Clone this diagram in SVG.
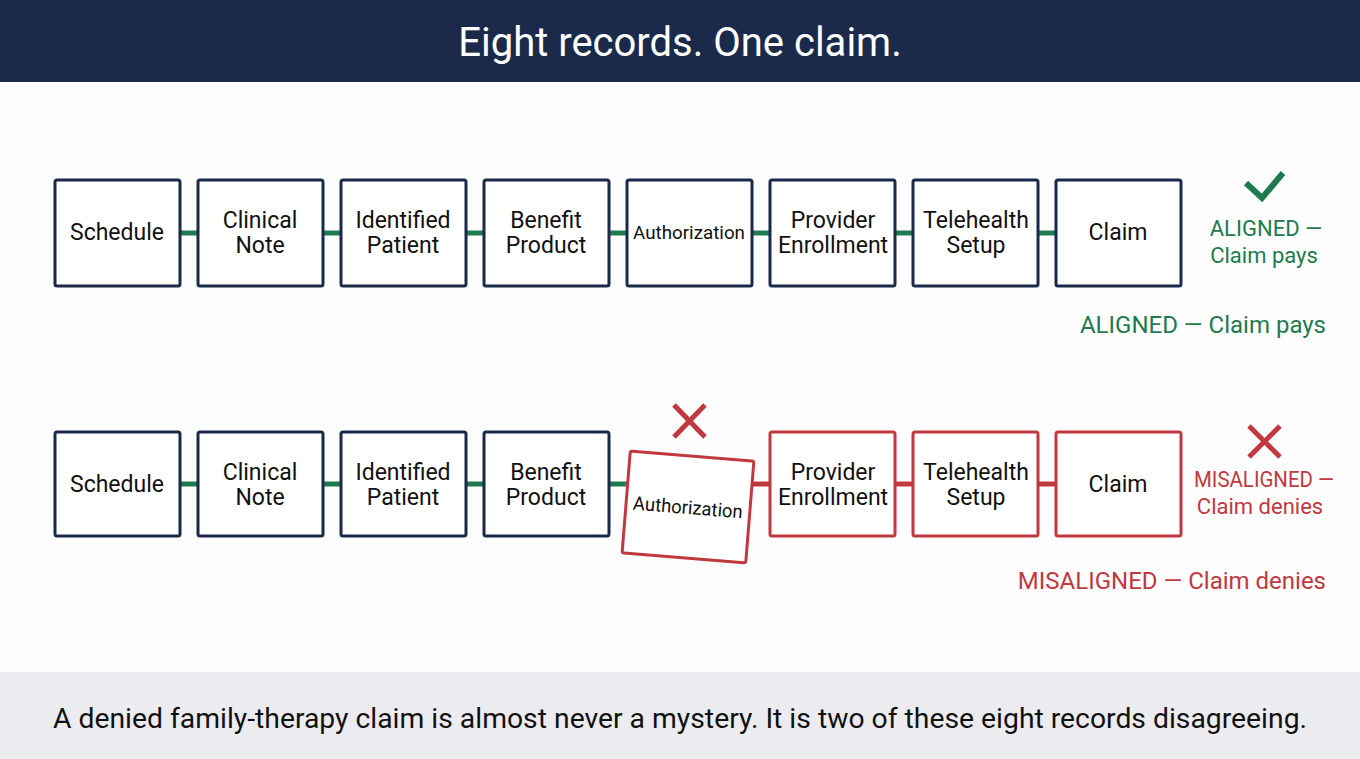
<svg xmlns="http://www.w3.org/2000/svg" width="1360" height="759" viewBox="0 0 1360 759">
<style>
text{font-family:Roboto,"Liberation Sans",sans-serif}
.b{fill:#fff;stroke:#1b2a4a;stroke-width:3}
.r{fill:#fff;stroke:#c0393f;stroke-width:3}
.t{font-size:23px;fill:#111;text-anchor:middle}
.au{font-size:19px;fill:#111;text-anchor:middle}
.g{stroke:#1e7a4f;stroke-width:5}
.rc{stroke:#c0393f;stroke-width:5}
.gt{fill:#1e7a4f;font-size:24px;text-anchor:middle}
.rt{fill:#c0393f;font-size:24px;text-anchor:middle}
.s{font-size:22px}
</style>
<rect width="1360" height="759" fill="#fdfdfd"/>
<rect width="1360" height="82" fill="#1b2a4a"/>
<text x="680" y="56" font-size="40" fill="#fff" text-anchor="middle">Eight records. One claim.</text>
<rect y="672" width="1360" height="87" fill="#ececf0"/>
<text x="680" y="728" font-size="28" fill="#111" text-anchor="middle" textLength="1254" lengthAdjust="spacingAndGlyphs">A denied family-therapy claim is almost never a mystery. It is two of these eight records disagreeing.</text>
<g id="connectors">
<line class="g" x1="180" y1="233" x2="198" y2="233"/><line class="g" x1="323" y1="233" x2="341" y2="233"/><line class="g" x1="466" y1="233" x2="484" y2="233"/><line class="g" x1="609" y1="233" x2="627" y2="233"/><line class="g" x1="752" y1="233" x2="770" y2="233"/><line class="g" x1="895" y1="233" x2="913" y2="233"/><line class="g" x1="1038" y1="233" x2="1056" y2="233"/>
<line class="g" x1="180" y1="484" x2="198" y2="484"/><line class="g" x1="323" y1="484" x2="341" y2="484"/><line class="g" x1="466" y1="484" x2="484" y2="484"/><line class="g" x1="609" y1="484" x2="627" y2="484"/><line class="rc" x1="752" y1="484" x2="770" y2="484"/><line class="rc" x1="895" y1="484" x2="913" y2="484"/><line class="rc" x1="1038" y1="484" x2="1056" y2="484"/>
</g>
<g id="row1">
<g id="a1"><rect class="b" x="55" y="180" width="125" height="106" rx="2"/><text class="t" x="117" y="240">Schedule</text></g>
<g id="a2"><rect class="b" x="198" y="180" width="125" height="106" rx="2"/><text class="t" x="260" y="228">Clinical</text><text class="t" x="260" y="253">Note</text></g>
<g id="a3"><rect class="b" x="341" y="180" width="125" height="106" rx="2"/><text class="t" x="403" y="228">Identified</text><text class="t" x="403" y="253">Patient</text></g>
<g id="a4"><rect class="b" x="484" y="180" width="125" height="106" rx="2"/><text class="t" x="546" y="228">Benefit</text><text class="t" x="546" y="253">Product</text></g>
<g id="a5"><rect class="b" x="627" y="180" width="125" height="106" rx="2"/><text class="au" x="689" y="239" textLength="112" lengthAdjust="spacingAndGlyphs">Authorization</text></g>
<g id="a6"><rect class="b" x="770" y="180" width="125" height="106" rx="2"/><text class="t" x="833" y="228">Provider</text><text class="t" x="833" y="253">Enrollment</text></g>
<g id="a7"><rect class="b" x="913" y="180" width="125" height="106" rx="2"/><text class="t" x="976" y="228">Telehealth</text><text class="t" x="976" y="253">Setup</text></g>
<g id="a8"><rect class="b" x="1056" y="180" width="125" height="106" rx="2"/><text class="t" x="1118" y="240">Claim</text></g>
<path d="M1246 183 L1262 198 L1283 173" fill="none" stroke="#1e7a4f" stroke-width="6"/>
<text class="gt s" x="1266" y="236">ALIGNED —</text><text class="gt s" x="1264" y="263">Claim pays</text>
<text class="gt" x="1326" y="333" style="text-anchor:end">ALIGNED — Claim pays</text>
</g>
<g id="row2">
<g id="b1"><rect class="b" x="55" y="432" width="125" height="104" rx="2"/><text class="t" x="117" y="492">Schedule</text></g>
<g id="b2"><rect class="b" x="198" y="432" width="125" height="104" rx="2"/><text class="t" x="260" y="480">Clinical</text><text class="t" x="260" y="505">Note</text></g>
<g id="b3"><rect class="b" x="341" y="432" width="125" height="104" rx="2"/><text class="t" x="403" y="480">Identified</text><text class="t" x="403" y="505">Patient</text></g>
<g id="b4"><rect class="b" x="484" y="432" width="125" height="104" rx="2"/><text class="t" x="546" y="480">Benefit</text><text class="t" x="546" y="505">Product</text></g>
<g id="b5" transform="rotate(4.6 688 507)"><rect class="r" x="626" y="456" width="124" height="102" rx="2"/><text class="au" x="688" y="514" textLength="110" lengthAdjust="spacingAndGlyphs">Authorization</text></g>
<g id="b6"><rect class="r" x="770" y="432" width="125" height="104" rx="2"/><text class="t" x="833" y="480">Provider</text><text class="t" x="833" y="505">Enrollment</text></g>
<g id="b7"><rect class="r" x="913" y="432" width="125" height="104" rx="2"/><text class="t" x="976" y="480">Telehealth</text><text class="t" x="976" y="505">Setup</text></g>
<g id="b8"><rect class="r" x="1056" y="432" width="125" height="104" rx="2"/><text class="t" x="1118" y="492">Claim</text></g>
<path d="M674 405 L705 437 M705 405 L674 437" stroke="#c0393f" stroke-width="5"/>
<path d="M1249 426 L1280 457 M1280 426 L1249 457" stroke="#c0393f" stroke-width="5"/>
<text class="rt s" x="1264" y="487" textLength="140" lengthAdjust="spacingAndGlyphs">MISALIGNED —</text><text class="rt s" x="1260" y="514">Claim denies</text>
<text class="rt" x="1326" y="589" style="text-anchor:end">MISALIGNED — Claim denies</text>
</g>
</svg>
